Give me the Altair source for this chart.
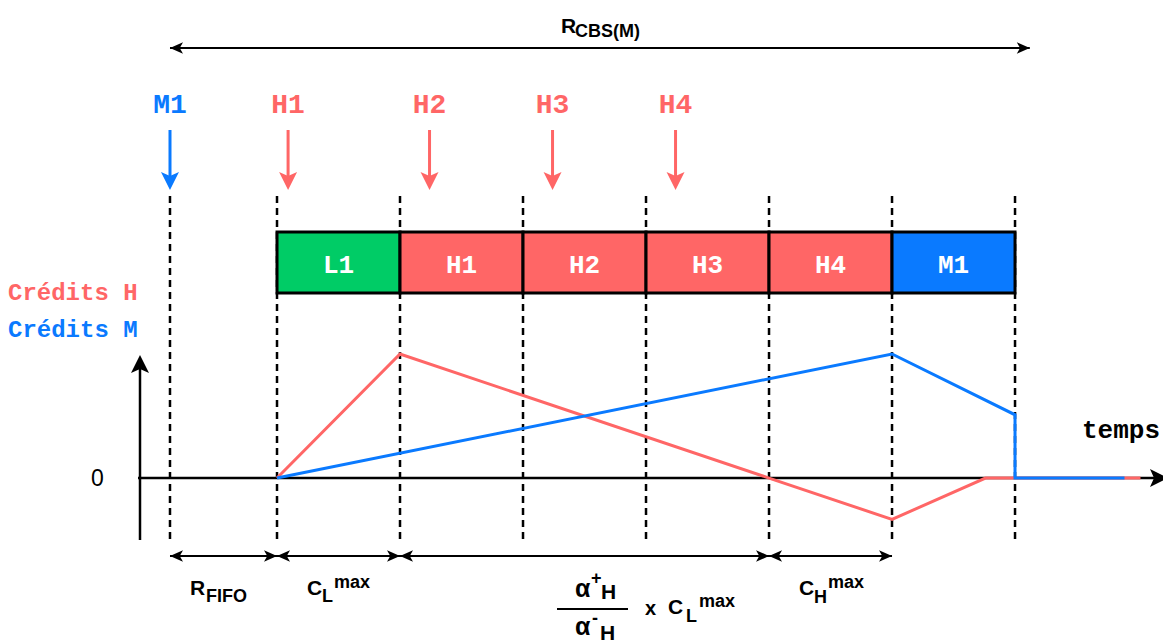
import altair as alt
import pandas as pd

RED = "#FF6666"
BLUE = "#0A7AFF"
GREEN = "#00CC66"
MONO = "Liberation Mono"
SANS = "Liberation Sans"

# ---- data (time in transmission slots, 0 = start of L1; credits in arbitrary units)
slot_bounds = [-0.87, 0, 1, 2, 3, 4, 5, 6]
box_labels = ["L1", "H1", "H2", "H3", "H4", "M1"]
box_start = [0, 1, 2, 3, 4, 5]
box_end = [1, 2, 3, 4, 5, 6]
box_colors = [GREEN, RED, RED, RED, RED, BLUE]

arrival_labels = ["M1", "H1", "H2", "H3", "H4"]
arrival_times = [-0.87, 0.09, 1.24, 2.24, 3.24]
arrival_colors = [BLUE, RED, RED, RED, RED]

h_time = [0, 1, 4, 5, 5.76, 6, 7.02]
h_credit = [0, 3, 0, -1, 0, 0, 0]
m_time = [0, 5, 6, 6, 6.89]
m_credit = [0, 3, 1.53, 0, 0]

span_start = [-0.87, 0, 1, 4]
span_end = [0, 1, 4, 5]
top_span = [-0.87, 6.12]

# ---- layout
W, H = 1155, 635
XS = alt.Scale(domain=[-2.187, 7.203], nice=False, zero=False)
YS = alt.Scale(domain=[-3.99, 11.37], nice=False, zero=False)


def px(v):
    return v - 8


HEAD_R = "M0,0L-2,-0.9L-1.5,0L-2,0.9Z"
HEAD_L = "M0,0L2,-0.9L1.5,0L2,0.9Z"
HEAD_D = "M0,0L-1,-2L0,-1.55L1,-2Z"
HEAD_U = "M0,0L-1,2L0,1.55L1,2Z"
HEAD_RB = "M0,0L-2,-1L-1.55,0L-2,1Z"

one = pd.DataFrame({"a": [0]})


def txt(text, x, y, size, color="black", font=SANS, weight="bold", align="left"):
    return alt.Chart(one).mark_text(
        text=text, fontSize=size, font=font, fontWeight=weight, color=color,
        align=align, baseline="alphabetic"
    ).encode(x=alt.value(px(x)), y=alt.value(px(y)))


layers = []

# dashed slot boundaries
dash_df = pd.DataFrame({"t": slot_bounds})
layers.append(alt.Chart(dash_df).mark_rule(color="black", strokeWidth=2.5, strokeDash=[7, 5]).encode(
    x=alt.X("t:Q", scale=XS, axis=None), y=alt.value(px(196)), y2=alt.value(px(541))))

# boxes
box_df = pd.DataFrame({"t0": box_start, "t1": box_end, "lab": box_labels, "col": box_colors})
layers.append(alt.Chart(box_df).mark_rect(stroke="black", strokeWidth=3).encode(
    x=alt.X("t0:Q", scale=XS, axis=None), x2="t1:Q",
    y=alt.value(px(232)), y2=alt.value(px(293)),
    fill=alt.Fill("col:N", scale=None)))
box_df["mid"] = [(a + b) / 2 for a, b in zip(box_start, box_end)]
layers.append(alt.Chart(box_df).mark_text(font=MONO, fontWeight="bold", fontSize=26, color="white",
                                          baseline="alphabetic").encode(
    x=alt.X("mid:Q", scale=XS, axis=None), y=alt.value(px(273)), text="lab:N"))

# axes
layers.append(alt.Chart(one).mark_rule(color="black", strokeWidth=2.5).encode(
    x=alt.value(px(138)), x2=alt.value(px(1160)), y=alt.value(px(478))))
layers.append(alt.Chart(one).mark_rule(color="black", strokeWidth=2.5).encode(
    x=alt.value(px(140)), y=alt.value(px(362)), y2=alt.value(px(540))))

# credit curves
hdf = pd.DataFrame({"t": h_time, "c": h_credit, "i": range(len(h_time))})
mdf = pd.DataFrame({"t": m_time, "c": m_credit, "i": range(len(m_time))})
layers.append(alt.Chart(hdf).mark_line(color=RED, strokeWidth=3).encode(
    x=alt.X("t:Q", scale=XS, axis=None), y=alt.Y("c:Q", scale=YS, axis=None), order="i:Q"))
layers.append(alt.Chart(mdf).mark_line(color=BLUE, strokeWidth=3).encode(
    x=alt.X("t:Q", scale=XS, axis=None), y=alt.Y("c:Q", scale=YS, axis=None), order="i:Q"))

# arrival arrows
arr_df = pd.DataFrame({"t": arrival_times, "lab": arrival_labels, "col": arrival_colors,
                       "shape": [HEAD_D] * len(arrival_times)})
layers.append(alt.Chart(arr_df).mark_rule(strokeWidth=3).encode(
    x=alt.X("t:Q", scale=XS, axis=None), y=alt.value(px(130)), y2=alt.value(px(180)),
    color=alt.Color("col:N", scale=None)))
layers.append(alt.Chart(arr_df).mark_point(filled=True, opacity=1, size=324, strokeWidth=0).encode(
    x=alt.X("t:Q", scale=XS, axis=None), y=alt.value(px(190)),
    shape=alt.Shape("shape:N", scale=None), color=alt.Color("col:N", scale=None)))
layers.append(alt.Chart(arr_df).mark_text(font=MONO, fontWeight="bold", fontSize=28,
                                          baseline="alphabetic").encode(
    x=alt.X("t:Q", scale=XS, axis=None), y=alt.value(px(113)), text="lab:N",
    color=alt.Color("col:N", scale=None)))

# top span arrow
top_df = pd.DataFrame({"t0": [top_span[0]], "t1": [top_span[1]]})
layers.append(alt.Chart(top_df).mark_rule(color="black", strokeWidth=2).encode(
    x=alt.X("t0:Q", scale=XS, axis=None), x2="t1:Q", y=alt.value(px(48))))
top_heads = pd.DataFrame({"t": top_span, "shape": [HEAD_L, HEAD_R]})
layers.append(alt.Chart(top_heads).mark_point(filled=True, opacity=1, size=169, strokeWidth=0,
                                              color="black").encode(
    x=alt.X("t:Q", scale=XS, axis=None), y=alt.value(px(48)),
    shape=alt.Shape("shape:N", scale=None)))

# bottom span arrows
span_df = pd.DataFrame({"t0": span_start, "t1": span_end})
layers.append(alt.Chart(span_df).mark_rule(color="black", strokeWidth=2).encode(
    x=alt.X("t0:Q", scale=XS, axis=None), x2="t1:Q", y=alt.value(px(556))))
heads = pd.DataFrame({"t": span_start + span_end,
                      "shape": [HEAD_L] * len(span_start) + [HEAD_R] * len(span_end)})
layers.append(alt.Chart(heads).mark_point(filled=True, opacity=1, size=169, strokeWidth=0,
                                          color="black").encode(
    x=alt.X("t:Q", scale=XS, axis=None), y=alt.value(px(556)),
    shape=alt.Shape("shape:N", scale=None)))

# axis arrow heads
axis_heads = pd.DataFrame({"shape": [HEAD_U]})
layers.append(alt.Chart(axis_heads).mark_point(filled=True, opacity=1, size=324, strokeWidth=0,
                                               color="black").encode(
    x=alt.value(px(140)), y=alt.value(px(355)), shape=alt.Shape("shape:N", scale=None)))
axis_heads2 = pd.DataFrame({"shape": [HEAD_RB]})
layers.append(alt.Chart(axis_heads2).mark_point(filled=True, opacity=1, size=324, strokeWidth=0,
                                                color="black").encode(
    x=alt.value(px(1168)), y=alt.value(px(478)), shape=alt.Shape("shape:N", scale=None)))

# fraction bar
layers.append(alt.Chart(one).mark_rule(color="black", strokeWidth=2).encode(
    x=alt.value(px(557)), x2=alt.value(px(628)), y=alt.value(px(609))))

# texts
layers += [
    txt("Crédits H", 8, 300, 24, RED, MONO),
    txt("Crédits M", 8, 337, 24, BLUE, MONO),
    txt("temps", 1082, 438, 26, "black", MONO),
    txt("0", 91, 486, 23, "black", SANS, "normal"),
    txt("R", 561, 33, 21), txt("CBS(M)", 575, 37, 18),
    txt("R", 190, 595, 21), txt("FIFO", 206, 602, 18),
    txt("C", 307, 595, 21), txt("L", 322, 602, 18), txt("max", 334, 588, 18),
    txt("C", 799, 595, 21), txt("H", 814, 603, 18), txt("max", 828, 588, 18),
    txt("α", 575, 597, 25), txt("+", 591, 584, 18), txt("H", 601, 599, 21),
    txt("α", 575, 635, 25), txt("-", 592, 624, 18), txt("H", 600, 640, 21),
    txt("x", 645, 615, 20),
    txt("C", 668, 614, 21), txt("L", 686, 622, 18), txt("max", 699, 607, 18),
]

chart = alt.layer(*layers).properties(
    width=W, height=H, autosize=alt.AutoSizeParams(type="none"), padding=0
).configure_view(stroke=None)

chart.save("out.html", embed_options={"renderer": "svg", "actions": False})
